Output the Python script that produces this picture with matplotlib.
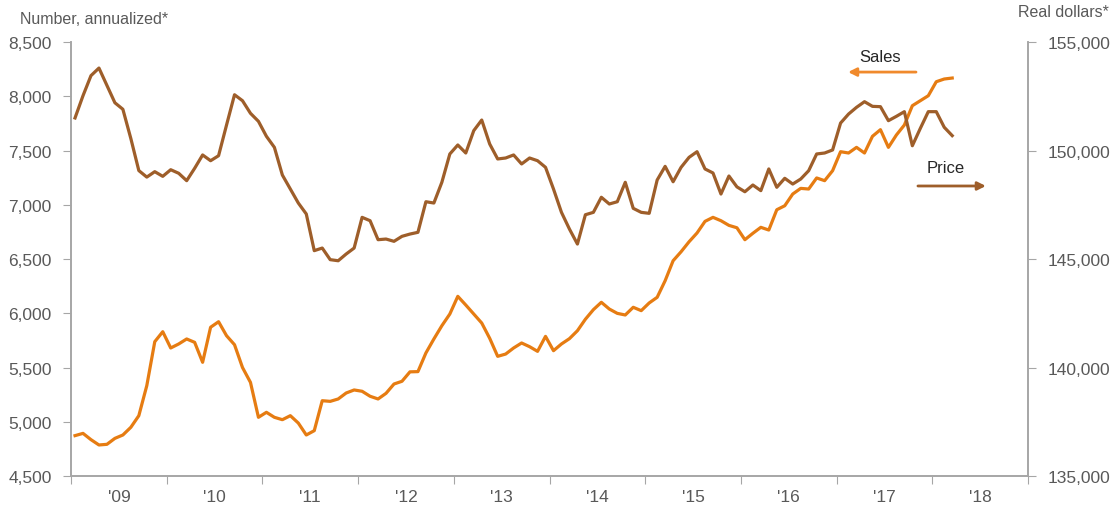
import numpy as np
import matplotlib
matplotlib.use("Agg")
import matplotlib.pyplot as plt
from matplotlib.ticker import FuncFormatter, FixedLocator

plt.rcParams['font.family'] = ['Liberation Sans', 'DejaVu Sans']

# Monthly series, Jan 2009 - Mar 2018
sales = [
    4872, 4893, 4835, 4786, 4792, 4847, 4878, 4949, 5056, 5333,
    5738, 5830, 5680, 5717, 5763, 5732, 5548, 5871, 5922, 5793,
    5710, 5500, 5363, 5041, 5087, 5041, 5019, 5056, 4988, 4878,
    4918, 5194, 5188, 5210, 5265, 5293, 5281, 5235, 5210, 5262,
    5348, 5373, 5460, 5462, 5634, 5763, 5885, 5993, 6156, 6076,
    5993, 5910, 5769, 5603, 5624, 5680, 5726, 5692, 5649, 5787,
    5655, 5717, 5766, 5839, 5945, 6033, 6101, 6039, 5999, 5984,
    6055, 6024, 6095, 6147, 6300, 6484, 6567, 6659, 6740, 6847,
    6884, 6853, 6810, 6788, 6678, 6737, 6792, 6767, 6954, 6991,
    7099, 7151, 7145, 7247, 7222, 7314, 7489, 7477, 7529, 7477,
    7631, 7692, 7529, 7643, 7735, 7913, 7959, 8005, 8134, 8159,
    8168,
]

price = [
    151500, 152525, 153450, 153800, 153000, 152200, 151900, 150550, 149075, 148775,
    149025, 148810, 149115, 148950, 148610, 149180, 149795, 149530, 149760, 151175,
    152570, 152295, 151715, 151345, 150655, 150145, 148870, 148225, 147580, 147075,
    145385, 145505, 144970, 144920, 145230, 145505, 146920, 146765, 145890, 145920,
    145815, 146045, 146150, 146230, 147640, 147580, 148535, 149840, 150255, 149885,
    150915, 151405, 150300, 149610, 149655, 149795, 149380, 149655, 149530, 149225,
    148225, 147150, 146380, 145690, 147040, 147150, 147845, 147535, 147640, 148535,
    147335, 147150, 147105, 148640, 149270, 148560, 149225, 149685, 149945, 149150,
    148965, 147995, 148825, 148325, 148100, 148410, 148150, 149150, 148305, 148720,
    148455, 148685, 149070, 149840, 149885, 150025, 151265, 151680, 151990, 152250,
    152035, 152020, 151375, 151575, 151790, 150220, 151020, 151790, 151790, 151070,
    150685,
]

years = list(range(2009, 2019))
year_labels = ["'09", "'10", "'11", "'12", "'13", "'14", "'15", "'16", "'17", "'18"]

SALES_COLOR = '#E67C12'
PRICE_COLOR = '#9E5E2A'
AXIS_COLOR = '#A6A6A6'
TEXT_COLOR = '#595959'

x = 2009 + (np.arange(len(sales)) + 0.5) / 12

fig = plt.figure(figsize=(11.17, 5.06), dpi=100)
ax = fig.add_axes([0.0636, 0.0573, 0.8567, 0.8577])
ax2 = ax.twinx()

ax.plot(x, sales, color=SALES_COLOR, lw=2.3, solid_joinstyle='round', zorder=3)
ax2.plot(x, price, color=PRICE_COLOR, lw=2.3, solid_joinstyle='round', zorder=3)

ax.set_xlim(2009, 2019)
ax.set_ylim(4500, 8500)
ax2.set_ylim(135000, 155000)

ax.set_yticks(np.arange(4500, 8501, 500))
ax2.set_yticks(np.arange(135000, 155001, 5000))
fmt = FuncFormatter(lambda v, p: f"{int(v):,}")
ax.yaxis.set_major_formatter(fmt)
ax2.yaxis.set_major_formatter(fmt)

# year boundaries as ticks, labels centred in each year
ax.xaxis.set_major_locator(FixedLocator(years + [2019]))
ax.xaxis.set_minor_locator(FixedLocator([y + 0.5 for y in years]))
ax.set_xticklabels([])
ax.set_xticklabels(year_labels, minor=True)
ax.tick_params(axis='x', which='minor', length=0, pad=9)
ax.tick_params(axis='x', which='major', length=6, color=AXIS_COLOR)

for a in (ax, ax2):
    for s in a.spines.values():
        s.set_color(AXIS_COLOR)
        s.set_linewidth(1.2)
    a.spines['top'].set_visible(False)
    a.tick_params(axis='y', length=6, color=AXIS_COLOR, labelsize=12.5,
                  labelcolor=TEXT_COLOR, pad=8)
ax.tick_params(axis='x', which='both', labelsize=12.5, labelcolor=TEXT_COLOR)

fig.text(0.018, 0.962, 'Number, annualized*', fontsize=11.5, color=TEXT_COLOR,
         ha='left', va='center')
fig.text(0.993, 0.975, 'Real dollars*', fontsize=11.5, color=TEXT_COLOR,
         ha='right', va='center')

# series labels with arrows pointing at their axes
ax.annotate('', xy=(2017.12, 8223), xytext=(2017.83, 8223),
            arrowprops=dict(arrowstyle='-|>', color='#F08A2C', lw=2,
                            mutation_scale=12, shrinkA=0, shrinkB=0))
ax.text(2017.45, 8362, 'Sales', fontsize=12, color='#262626',
        ha='center', va='center')
ax.annotate('', xy=(2018.56, 7173), xytext=(2017.85, 7173),
            arrowprops=dict(arrowstyle='-|>', color=PRICE_COLOR, lw=2,
                            mutation_scale=12, shrinkA=0, shrinkB=0))
ax.text(2018.14, 7348, 'Price', fontsize=12, color='#262626',
        ha='center', va='center')

plt.savefig('out.png', dpi=100)
plt.close()
